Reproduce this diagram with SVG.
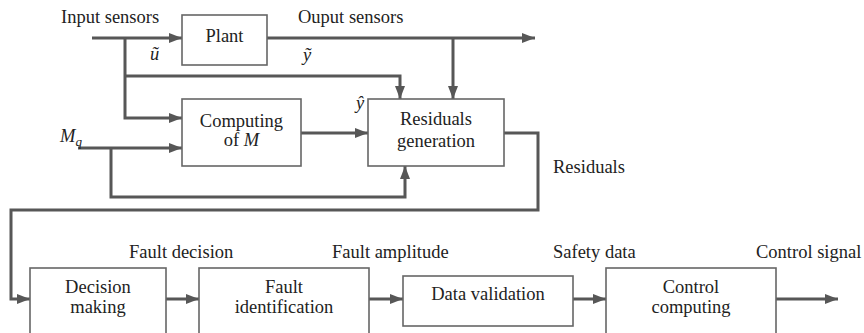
<svg xmlns="http://www.w3.org/2000/svg" width="864" height="333" viewBox="0 0 864 333">
  <style>
    .box { fill: #ffffff; stroke: #666666; stroke-width: 1.6; }
    .wire { fill: none; stroke: #575757; stroke-width: 3; marker-end: url(#arrow); }
    text { font-family: 'Liberation Serif', 'DejaVu Serif', serif; font-size: 18.5px; fill: #222222; }
    .mid { text-anchor: middle; }
    .it { font-style: italic; }
  </style>
  <defs>
    <marker id="arrow" viewBox="0 0 13 10" refX="13" refY="5" markerWidth="13" markerHeight="10" markerUnits="userSpaceOnUse" orient="auto">
      <path d="M0,0 L13,5 L0,10 z" fill="#575757"/>
    </marker>
  </defs>
  <rect width="864" height="333" fill="#ffffff"/>

  <!-- signal lines -->
  <g id="connectors">
    <path class="wire" d="M92,38 H182"/>
    <path class="wire" d="M125,38 V118 H182"/>
    <path class="wire" d="M125,76 H400 V99"/>
    <path class="wire" d="M267,38 H535"/>
    <path class="wire" d="M453,38 V99"/>
    <path class="wire" d="M301,133 H368"/>
    <path class="wire" d="M78,148 H182"/>
    <path class="wire" d="M111,148 V197 H405 V166"/>
    <path class="wire" d="M504,133 H538 V210 H11 V299 H30"/>
    <path class="wire" d="M166,299 H199"/>
    <path class="wire" d="M369,299 H403"/>
    <path class="wire" d="M573,299 H606"/>
    <path class="wire" d="M776,299 H838"/>
  </g>

  <!-- signal names -->
  <g id="labels" font-family="Liberation Serif, serif">
    <text x="61" y="23">Input sensors</text>
    <text x="298" y="23">Ouput sensors</text>
    <text x="150" y="60" class="it">ũ</text>
    <text x="303" y="61" class="it">ỹ</text>
    <text x="356" y="109" class="it">ŷ</text>
    <text x="60" y="142" class="it">M<tspan font-size="13" dy="4">q</tspan></text>
    <text x="553" y="173">Residuals</text>
    <text x="129" y="258">Fault decision</text>
    <text x="332" y="258">Fault amplitude</text>
    <text x="553" y="258">Safety data</text>
    <text x="756" y="258">Control signal</text>
  </g>

  <g id="plant">
    <rect class="box" x="182" y="15" width="85" height="50"/>
    <text class="mid" x="224.5" y="42">Plant</text>
  </g>

  <g id="computing-m">
    <rect class="box" x="182" y="99" width="119" height="67"/>
    <text class="mid" x="241.5" y="127">Computing</text>
    <text class="mid" x="241.5" y="146">of <tspan class="it">M</tspan></text>
  </g>

  <g id="residuals-generation">
    <rect class="box" x="368" y="99" width="136" height="67"/>
    <text class="mid" x="436" y="125">Residuals</text>
    <text class="mid" x="436" y="147">generation</text>
  </g>

  <g id="decision-making">
    <rect class="box" x="30" y="268" width="136" height="80"/>
    <text class="mid" x="98" y="293">Decision</text>
    <text class="mid" x="98" y="313">making</text>
  </g>

  <g id="fault-identification">
    <rect class="box" x="199" y="268" width="170" height="80"/>
    <text class="mid" x="284" y="293">Fault</text>
    <text class="mid" x="284" y="313">identification</text>
  </g>

  <g id="data-validation">
    <rect class="box" x="403" y="276" width="170" height="50"/>
    <text class="mid" x="488" y="300">Data validation</text>
  </g>

  <g id="control-computing">
    <rect class="box" x="606" y="268" width="170" height="80"/>
    <text class="mid" x="691" y="293">Control</text>
    <text class="mid" x="691" y="313">computing</text>
  </g>
</svg>
